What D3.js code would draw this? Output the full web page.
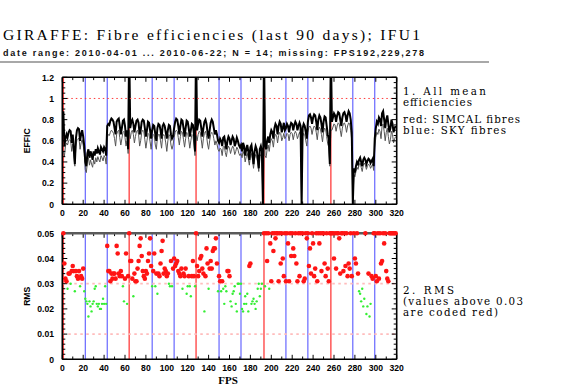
<!DOCTYPE html>
<html><head><meta charset="utf-8">
<script src="https://cdn.jsdelivr.net/npm/d3@7"></script>
<style>body{margin:0;background:#fff}svg{display:block}</style>
</head><body>
<script>
// ---------- data ----------
const titleText = "GIRAFFE: Fibre efficiencies (last 90 days); IFU1";
const subtitleText = "date range: 2010-04-01 ... 2010-06-22; N = 14; missing: FPS192,229,278";
const firstFibre = 1;
const simcalFibres = [1, 64, 128, 193, 257];
const skyFibres = [22, 43, 86, 107, 150, 171, 214, 235, 278, 299];
const xTicks = [0,20,40,60,80,100,120,140,160,180,200,220,240,260,280,300,320];
const effTicks = [0,0.2,0.4,0.6,0.8,1,1.2];
const effTickLabels = ["0","0.2","0.4","0.6","0.8","1","1.2"];
const rmsTicks = [0,0.01,0.02,0.03,0.04,0.05];
const rmsTickLabels = ["0","0.01","0.02","0.03","0.04","0.05"];
const effRefLines = [1.0];
const rmsRefLines = [0.01, 0.03];
const rmsThreshold = 0.03;

// mean efficiency (black), fibres 1..319
const effMean = [
0.88,0.55,0.62,0.66,0.63,0.68,0.70,0.69,0.58,0.66,0.52,0.38,0.62,0.70,0.72,0.71,0.60,0.66,0.70,0.64,0.55,
0.40,0.36,0.48,0.52,0.44,0.50,0.47,0.42,0.50,0.46,0.52,0.48,0.53,0.50,0.47,0.54,0.52,0.50,0.54,0.52,0.46,
0.74,0.76,0.75,0.79,0.81,0.80,0.78,0.72,0.66,0.78,0.80,0.81,0.74,0.66,0.72,0.79,0.80,0.74,0.64,0.70,0.52,
1.50,
0.72,0.78,0.80,0.76,0.68,0.74,0.79,0.80,0.77,0.66,0.70,0.78,0.80,0.79,0.72,0.64,0.70,0.78,0.77,0.70,0.62,
0.70,0.75,0.74,0.66,0.60,0.72,0.76,0.75,0.70,0.62,0.74,0.76,0.74,0.68,0.62,0.70,0.75,0.74,0.66,0.62,0.64,
0.72,0.78,0.81,0.80,0.74,0.66,0.74,0.80,0.79,0.72,0.64,0.72,0.79,0.78,0.72,0.64,0.70,0.76,0.75,0.66,0.50,
1.50,
0.70,0.76,0.80,0.79,0.72,0.64,0.72,0.78,0.80,0.76,0.68,0.62,0.70,0.77,0.80,0.78,0.72,0.66,0.70,0.66,0.60,
0.58,0.62,0.60,0.55,0.63,0.64,0.58,0.52,0.60,0.64,0.62,0.56,0.60,0.64,0.62,0.55,0.58,0.63,0.60,0.56,0.54,
0.56,0.50,0.58,0.55,0.46,0.52,0.56,0.50,0.42,0.54,0.56,0.48,0.38,0.50,0.55,0.52,0.44,0.34,0.52,0.55,0.50,
0.00,1.50,
0.56,0.52,0.60,0.64,0.58,0.66,0.70,0.68,0.62,0.72,0.76,0.74,0.66,0.74,0.78,0.76,0.68,0.72,0.77,0.70,
0.72,0.76,0.74,0.68,0.74,0.77,0.76,0.70,0.75,0.78,0.76,0.70,0.74,0.77,0.74,0.00,0.72,0.76,0.74,0.68,0.62,
0.78,0.84,0.85,0.82,0.76,0.82,0.85,0.84,0.78,0.70,0.80,0.84,0.82,0.76,0.68,0.78,0.83,0.82,0.74,0.66,0.62,0.38,
1.50,
0.78,0.82,0.86,0.84,0.78,0.84,0.87,0.86,0.80,0.74,0.82,0.86,0.87,0.84,0.78,0.84,0.88,0.86,0.80,0.68,
0.00,
0.34,0.30,0.36,0.40,0.38,0.42,0.44,0.40,0.36,0.42,0.44,0.42,0.38,0.41,0.43,0.42,0.39,0.41,0.43,0.36,
0.62,0.72,0.78,0.76,0.82,0.80,0.74,0.86,0.88,0.80,0.72,0.80,0.84,0.76,0.68,0.72,0.80,0.76,0.68,0.72,0.74
];
// second efficiency trace (grey), fibres 1..319
const effGrey = [
0.50,0.45,0.55,0.58,0.56,0.60,0.61,0.60,0.50,0.57,0.47,0.36,0.55,0.61,0.62,0.62,0.52,0.58,0.61,0.56,0.48,
0.33,0.30,0.40,0.44,0.37,0.42,0.38,0.35,0.42,0.38,0.44,0.40,0.45,0.42,0.40,0.46,0.44,0.41,0.46,0.44,0.38,
0.63,0.66,0.65,0.68,0.70,0.69,0.67,0.62,0.55,0.66,0.69,0.70,0.63,0.56,0.62,0.68,0.69,0.63,0.55,0.60,0.48,
0.70,
0.62,0.68,0.70,0.66,0.58,0.64,0.69,0.70,0.66,0.55,0.60,0.68,0.70,0.69,0.61,0.53,0.60,0.67,0.66,0.59,0.52,
0.62,0.66,0.65,0.56,0.52,0.63,0.66,0.66,0.60,0.53,0.64,0.66,0.64,0.58,0.50,0.60,0.66,0.64,0.56,0.52,0.56,
0.63,0.68,0.70,0.69,0.63,0.56,0.64,0.69,0.68,0.61,0.54,0.62,0.68,0.67,0.61,0.53,0.60,0.66,0.65,0.56,0.46,
0.65,
0.60,0.66,0.69,0.68,0.61,0.53,0.62,0.67,0.69,0.65,0.57,0.52,0.60,0.66,0.68,0.67,0.62,0.56,0.60,0.57,0.52,
0.50,0.53,0.52,0.46,0.54,0.55,0.49,0.45,0.52,0.55,0.53,0.48,0.52,0.55,0.53,0.47,0.50,0.54,0.52,0.48,0.46,
0.48,0.44,0.50,0.47,0.40,0.45,0.48,0.43,0.37,0.46,0.48,0.42,0.34,0.43,0.47,0.45,0.39,0.31,0.45,0.47,0.44,
0.00,1.50,
0.46,0.44,0.52,0.56,0.50,0.58,0.62,0.60,0.54,0.63,0.66,0.65,0.58,0.65,0.68,0.67,0.60,0.63,0.67,0.62,
0.64,0.67,0.66,0.60,0.66,0.68,0.67,0.61,0.66,0.69,0.67,0.62,0.65,0.68,0.66,0.00,0.64,0.67,0.66,0.60,0.55,
0.68,0.73,0.74,0.72,0.66,0.71,0.74,0.73,0.68,0.61,0.70,0.73,0.71,0.66,0.59,0.68,0.72,0.71,0.64,0.57,0.54,0.36,
0.70,
0.70,0.73,0.76,0.75,0.69,0.74,0.77,0.76,0.70,0.64,0.72,0.76,0.77,0.74,0.68,0.74,0.77,0.76,0.70,0.60,
0.00,
0.28,0.26,0.31,0.35,0.33,0.37,0.39,0.35,0.31,0.37,0.39,0.37,0.33,0.36,0.38,0.37,0.34,0.36,0.38,0.32,
0.54,0.63,0.68,0.66,0.71,0.69,0.62,0.74,0.76,0.69,0.60,0.68,0.72,0.64,0.57,0.61,0.69,0.66,0.58,0.62,0.64
];
// RMS, fibres 1..319 (null = missing)
const rms = [
0.050,0.038,0.032,0.031,0.028,0.034,0.034,0.030,0.035,0.037,0.035,0.027,0.035,0.033,0.032,0.035,0.029,0.033,0.032,0.036,0.027,
0.024,0.023,0.022,0.017,0.023,0.021,0.019,0.022,0.023,0.028,0.029,0.022,0.021,0.022,0.020,0.020,0.022,0.024,0.022,0.029,0.022,
0.045,0.035,0.035,0.031,0.034,0.032,0.034,0.034,0.032,0.045,0.042,0.034,0.033,0.035,0.033,0.029,0.023,0.032,0.042,0.022,0.033,
0.050,
0.039,0.039,0.032,0.025,0.034,0.031,0.031,0.036,0.039,0.045,0.048,0.041,0.035,0.033,0.032,0.035,0.034,0.039,0.042,0.048,0.037,
0.029,0.035,0.042,0.029,0.034,0.026,0.034,0.033,0.038,0.043,0.047,0.034,0.036,0.035,0.033,0.034,0.030,0.029,0.039,0.029,0.036,
0.040,0.037,0.038,0.039,0.035,0.034,0.033,0.036,0.028,0.034,0.033,0.036,0.026,0.029,0.033,0.029,0.025,0.033,0.039,0.033,0.029,
0.050,
0.037,0.033,0.035,0.040,0.041,0.036,0.034,0.019,0.033,0.044,0.038,0.028,0.036,0.039,0.036,0.043,0.044,0.044,0.048,0.038,0.027,
0.033,0.031,0.027,0.031,0.028,0.022,0.029,0.027,0.035,0.035,0.033,0.023,0.021,0.026,0.027,0.029,0.022,0.019,0.030,0.030,0.026,
0.030,0.020,0.019,0.022,0.025,0.022,0.026,0.019,0.037,0.038,0.022,0.023,0.024,0.022,0.020,0.023,0.028,0.030,0.025,0.028,0.030,
null,0.050,
0.029,0.050,0.039,0.050,0.028,0.046,0.031,0.050,0.043,0.050,0.048,0.050,0.050,0.031,0.050,0.038,0.050,0.040,0.033,0.050,
0.031,0.050,0.046,0.031,0.050,0.041,0.050,0.044,0.041,0.050,0.038,0.031,0.050,0.033,0.050,null,0.050,0.031,0.032,0.050,0.048,
0.050,0.037,0.044,0.034,0.050,0.046,0.033,0.036,0.050,0.031,0.050,0.046,0.050,0.035,0.050,0.050,0.038,0.033,0.050,0.036,0.031,0.050,
0.050,
0.050,0.050,0.040,0.050,0.036,0.050,0.050,0.048,0.034,0.050,0.050,0.035,0.050,0.037,0.050,0.033,0.038,0.036,0.050,0.033,
null,
0.050,0.040,0.038,0.050,0.034,0.027,0.026,0.023,0.028,0.021,0.024,0.050,0.018,0.021,0.034,0.017,0.022,0.033,0.032,0.050,
0.050,0.033,0.031,0.050,0.032,0.050,0.038,0.039,0.050,0.046,0.050,0.035,0.032,0.031,0.050,0.050,0.050,0.050,0.050,0.050,0.050
];

// ---------- layout ----------
const W = 570, H = 392;
const X0 = 62.3, X1 = 396.7;
const topP = {y0: 204.3, y1: 77.3};
const botP = {y0: 359.3, y1: 233.3};
const tickFont = "'Liberation Sans', Arial, sans-serif";
const serif = "'Liberation Serif', 'DejaVu Serif', serif";
const legendFont = "'DejaVu Serif', 'Liberation Serif', serif";

const svg = d3.select("body").append("svg").attr("width", W).attr("height", H);

// titles
svg.append("text").attr("x", 3).attr("y", 39.5).attr("font-family", serif).attr("font-size", 15.5)
  .attr("textLength", 417).attr("lengthAdjust", "spacing").text(titleText);
svg.append("text").attr("x", 3).attr("y", 56).attr("font-family", tickFont).attr("font-size", 9)
  .attr("font-weight", "bold").attr("fill", "#111")
  .attr("textLength", 421).attr("lengthAdjust", "spacing").text(subtitleText);
svg.append("line").attr("x1", 0).attr("x2", 489).attr("y1", 62).attr("y2", 62)
  .attr("stroke", "#a8a8a8").attr("stroke-width", 2);

const x = d3.scaleLinear().domain([0, 320]).range([X0, X1]);
const yE = d3.scaleLinear().domain([0, 1.2]).range([topP.y0, topP.y1]);
const yR = d3.scaleLinear().domain([0, 0.05]).range([botP.y0, botP.y1]);

const defs = svg.append("defs");
defs.append("clipPath").attr("id", "clipTop").append("rect")
  .attr("x", X0).attr("y", topP.y1).attr("width", X1 - X0).attr("height", topP.y0 - topP.y1);

function panelBase(y0, y1) {
  const g = svg.append("g");
  skyFibres.forEach(f => g.append("line").attr("x1", x(f)).attr("x2", x(f)).attr("y1", y0).attr("y2", y1)
    .attr("stroke", "#5a5aff").attr("stroke-width", 1.1));
  simcalFibres.forEach(f => g.append("line").attr("x1", x(f)).attr("x2", x(f)).attr("y1", y0).attr("y2", y1)
    .attr("stroke", "#ff4a4a").attr("stroke-width", 1.4));
  return g;
}

function axes(y, y0, y1, ticks, labels, minorStep, topColor) {
  const g = svg.append("g");
  const xMinor = d3.range(0, 321, 10);
  xMinor.forEach(v => {
    const major = v % 20 === 0;
    const len = major ? 4.5 : 2.8;
    g.append("line").attr("x1", x(v)).attr("x2", x(v)).attr("y1", y0).attr("y2", y0 - len).attr("stroke", "#000").attr("stroke-width", 1);
    g.append("line").attr("x1", x(v)).attr("x2", x(v)).attr("y1", y1).attr("y2", y1 + len).attr("stroke", "#000").attr("stroke-width", 1);
  });
  const yMax = y.domain()[1];
  const nMinor = Math.round(yMax / minorStep);
  for (let i = 0; i <= nMinor; i++) {
    const v = i * minorStep;
    const major = ticks.some(t => Math.abs(t - v) < 1e-9);
    const len = major ? 5 : 3;
    g.append("line").attr("x1", X0).attr("x2", X0 + len).attr("y1", y(v)).attr("y2", y(v)).attr("stroke", "#000").attr("stroke-width", 1);
    g.append("line").attr("x1", X1).attr("x2", X1 - len).attr("y1", y(v)).attr("y2", y(v)).attr("stroke", "#000").attr("stroke-width", 1);
  }
  g.append("line").attr("x1", X0).attr("x2", X0).attr("y1", y0).attr("y2", y1).attr("stroke", "#000").attr("stroke-width", 1.6);
  g.append("line").attr("x1", X1).attr("x2", X1).attr("y1", y0).attr("y2", y1).attr("stroke", "#000").attr("stroke-width", 1.6);
  g.append("line").attr("x1", X0).attr("x2", X1).attr("y1", y0).attr("y2", y0).attr("stroke", "#000").attr("stroke-width", 1.6);
  g.append("line").attr("x1", X0).attr("x2", X1).attr("y1", y1).attr("y2", y1).attr("stroke", topColor).attr("stroke-width", topColor === "#000" ? 1.6 : 2.4);
  xTicks.forEach(v => g.append("text").attr("x", x(v)).attr("y", y0 + 12).attr("text-anchor", "middle")
    .attr("font-family", tickFont).attr("font-weight", "bold").attr("font-size", 8.6).text(v));
  ticks.forEach((v, i) => g.append("text").attr("x", 54).attr("y", y(v) + 3.2).attr("text-anchor", "end")
    .attr("font-family", tickFont).attr("font-weight", "bold").attr("font-size", 8.6).text(labels[i]));
}

// ---- top panel ----
panelBase(topP.y0, topP.y1);
const lineE = d3.line().x((d, i) => x(firstFibre + i)).y(d => yE(d));
const gTop = svg.append("g").attr("clip-path", "url(#clipTop)");
gTop.append("path").datum(effGrey).attr("d", lineE).attr("fill", "none").attr("stroke", "#555").attr("stroke-width", 1);
gTop.append("path").datum(effMean).attr("d", lineE).attr("fill", "none").attr("stroke", "#000").attr("stroke-width", 2);
effRefLines.forEach(v => svg.append("line").attr("x1", X0).attr("x2", X1).attr("y1", yE(v)).attr("y2", yE(v))
  .attr("stroke", "#ff3a3a").attr("stroke-width", 1).attr("stroke-dasharray", "1.5,3"));
axes(yE, topP.y0, topP.y1, effTicks, effTickLabels, 0.05, "#000");

// ---- bottom panel ----
panelBase(botP.y0, botP.y1);
rmsRefLines.forEach(v => svg.append("line").attr("x1", X0).attr("x2", X1).attr("y1", yR(v)).attr("y2", yR(v))
  .attr("stroke", "#ffbcbc").attr("stroke-width", 1.8).attr("stroke-dasharray", "2.5,3.5"));
axes(yR, botP.y0, botP.y1, rmsTicks, rmsTickLabels, 0.002, "#5a5a5a");
const pts = rms.map((v, i) => ({f: firstFibre + i, v})).filter(d => d.v !== null);
svg.append("g").selectAll("circle").data(pts).join("circle")
  .attr("cx", d => x(d.f)).attr("cy", d => yR(Math.min(d.v, 0.05)))
  .attr("r", d => d.v > rmsThreshold ? 2.3 : 1.2)
  .attr("fill", d => d.v > rmsThreshold ? "#ff1414" : "#33ee33");

// axis titles
svg.append("text").attr("transform", `translate(30,${(topP.y0 + topP.y1) / 2}) rotate(-90)`).attr("text-anchor", "middle")
  .attr("font-family", tickFont).attr("font-weight", "bold").attr("font-size", 8.6).text("EFFIC");
svg.append("text").attr("transform", `translate(30,${(botP.y0 + botP.y1) / 2}) rotate(-90)`).attr("text-anchor", "middle")
  .attr("font-family", tickFont).attr("font-weight", "bold").attr("font-size", 8.6).text("RMS");
svg.append("text").attr("x", 228).attr("y", 384).attr("text-anchor", "middle")
  .attr("font-family", serif).attr("font-weight", "bold").attr("font-size", 11).text("FPS");

// legends
const leg = [
  ["1. All mean", 95, 83], ["efficiencies", 106, 69], ["red: SIMCAL fibres", 122.5, 117], ["blue: SKY fibres", 133.5, 103],
  ["2. RMS", 293.5, 51], ["(values above 0.03", 304.5, 120], ["are coded red)", 315.5, 95]
];
leg.forEach(([t, yy, w]) => svg.append("text").attr("x", 403).attr("y", yy).attr("font-family", legendFont)
  .attr("font-size", 10.3).attr("textLength", w).attr("lengthAdjust", "spacing").text(t));
</script>
</body></html>
